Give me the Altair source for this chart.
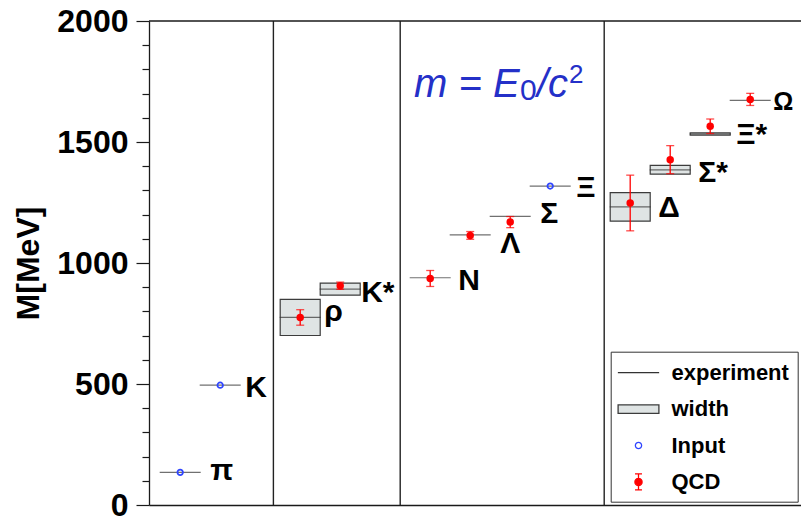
import altair as alt
import pandas as pd

# Hadron spectrum: experimental masses, decay widths and lattice QCD results (MeV)
particles = ["π", "K", "ρ", "K*", "N", "Λ", "Σ", "Ξ", "Δ", "Σ*", "Ξ*", "Ω"]
slots = [0.75, 1.75, 3.75, 4.75, 7, 8, 9, 10, 12, 13, 14, 15]
exp_mass = [135, 495, 775, 892, 939, 1116, 1193, 1318, 1232, 1385, 1533, 1672]
exp_width = [0, 0, 149, 50, 0, 0, 0, 0, 118, 36, 9, 0]
used_as_input = [True, True, False, False, False, False, False, True, False, False, False, False]
qcd_mass = [None, None, 775, 906, 936, 1114, 1169, None, 1248, 1427, 1565, 1676]
qcd_error = [None, None, 32, 15, 33, 16, 23, None, 115, 58, 30, 25]
group_dividers = [3.08, 6.25, 11.35]
y_tick_values = list(range(0, 2001, 100))
legend_entries = ["experiment", "width", "Input", "QCD"]

FONT = "Liberation Sans"
RED = "#ff0000"
BLUE = "#2f45ff"
INK = "#1a1a1a"

# label placement relative to each experimental line (pixels)
label_nudge = {
    "π": (30, 8), "K": (25, 12), "ρ": (24, 4), "K*": (21, 13),
    "N": (28, 12), "Λ": (30, 18), "Σ": (30, 7), "Ξ": (26, 11),
    "Δ": (28, 10), "Σ*": (28, 12), "Ξ*": (26, 10), "Ω": (23, 10),
}
label_size = {"Ω": 25}

df = pd.DataFrame({
    "name": particles,
    "slot": slots,
    "mass": exp_mass,
    "width": exp_width,
    "input": used_as_input,
    "qcd": qcd_mass,
    "err": qcd_error,
})

xscale = alt.Scale(domain=[-0.03, 16.27], nice=False, zero=False)
yscale = alt.Scale(domain=[0, 2000], nice=False, zero=False)
xaxis = alt.Axis(ticks=False, labels=False, grid=False, title="",
                 domainColor=INK, domainWidth=1.3)
major = "datum.value % 500 === 0"
yaxis = alt.Axis(
    values=y_tick_values,
    format="d",
    labelExpr=f"{major} ? datum.label : ''",
    labelOverlap=False,
    tickSize={"condition": {"test": major, "value": 13}, "value": 7},
    tickColor=INK, tickWidth=1.2,
    domainColor=INK, domainWidth=1.3,
    grid=False,
    labelFont=FONT, labelFontSize=32, labelFontWeight="bold", labelColor="black",
    labelPadding=8,
    title="M[MeV]", titleFont=FONT, titleFontSize=32, titleFontWeight="bold",
    titleColor="black", titleX=-121, titleY=242, titleAngle=270,
    titleAlign="center", titleBaseline="middle",
)


def X(field):
    return alt.X(field, type="quantitative", scale=xscale, axis=xaxis)


def Y(field):
    return alt.Y(field, type="quantitative", scale=yscale, axis=yaxis)


base = alt.Chart(df)

# decay-width boxes
boxes = base.transform_filter("datum.width > 0").transform_calculate(
    x0="datum.slot - 0.5", x1="datum.slot + 0.5",
    y0="datum.mass - datum.width / 2", y1="datum.mass + datum.width / 2",
).mark_rect(fill="#dfe4e4", stroke="#3c3c3c", strokeWidth=1.2).encode(
    x=X("x0"), x2="x1", y=Y("y0"), y2="y1"
)

# experimental masses
exp_lines = base.mark_tick(orient="horizontal", size=41, thickness=1.2, color="#333333").encode(
    x=X("slot"), y=Y("mass")
)

qcd = base.transform_filter("datum.qcd != null").transform_calculate(
    lo="datum.qcd - datum.err", hi="datum.qcd + datum.err"
)
err_bars = qcd.mark_rule(color=RED, strokeWidth=1.3).encode(
    x=X("slot"), y=Y("lo"), y2="hi"
)
err_caps = qcd.transform_fold(["lo", "hi"], as_=["end", "cap"]).mark_tick(
    orient="horizontal", size=8, thickness=1.3, color=RED
).encode(x=X("slot"), y=Y("cap"))
qcd_dots = qcd.mark_circle(size=56, color=RED, opacity=1).encode(
    x=X("slot"), y=Y("qcd")
)

inputs = base.transform_filter("datum.input").mark_point(
    shape="circle", size=30, stroke=BLUE, strokeWidth=1.8, filled=False, opacity=1
).encode(x=X("slot"), y=Y("mass"))

dividers = alt.Chart(pd.DataFrame({"slot": group_dividers})).mark_rule(
    color="#222222", strokeWidth=1.4
).encode(x=X("slot"))

top_edge = alt.Chart(pd.DataFrame({"mass": [2000]})).mark_rule(
    color=INK, strokeWidth=1.3
).encode(y=Y("mass"))

labels = []
for name in particles:
    dx, dy = label_nudge[name]
    labels.append(
        base.transform_filter(alt.datum.name == name).mark_text(
            align="left", baseline="alphabetic", dx=dx, dy=dy,
            font=FONT, fontWeight="bold", fontSize=label_size.get(name, 30), color="black",
        ).encode(x=X("slot"), y=Y("mass"), text="name:N")
    )

# m = E0/c^2
formula_parts = [
    ("m = E", 0, 0, 40, "italic"),
    ("0", 106, 3, 30, "normal"),
    ("/c", 123, 0, 40, "italic"),
    ("2", 155, -14, 26, "normal"),
]
formula = []
for txt, dx, dy, fs, style in formula_parts:
    formula.append(
        alt.Chart(pd.DataFrame({"t": [txt]})).mark_text(
            align="left", baseline="alphabetic", dx=dx, dy=dy,
            font=FONT, fontSize=fs, fontStyle=style, color="#2430c8",
        ).encode(x=alt.value(265), y=alt.value(76), text="t:N")
    )

# legend symbols: custom paths on a 24px symbol box
shape_paths = [
    "M-1.72,0H1.72",
    "M-1.7,-0.36H1.7V0.36H-1.7Z",
    "M-0.26,0A0.26,0.26,0,1,1,0.26,0A0.26,0.26,0,1,1,-0.26,0Z",
    "M-0.3,0A0.3,0.3,0,1,1,0.3,0A0.3,0.3,0,1,1,-0.3,0Z"
    "M0,-0.67V0.67M-0.29,-0.67H0.29M-0.29,0.67H0.29",
]
legend = alt.Legend(
    orient="none", legendX=461.7, legendY=330.7, title=None,
    padding=8, symbolOffset=6.8, labelOffset=20, rowPadding=12.4,
    symbolSize=576, symbolStrokeWidth=1.3, symbolOpacity=1,
    labelFont=FONT, labelFontSize=22, labelFontWeight="bold", labelColor="black",
    strokeColor="#333333", fillColor="white",
)
key = alt.Chart(pd.DataFrame({"kind": legend_entries})).mark_point(
    filled=True, size=576, opacity=0
).encode(
    shape=alt.Shape("kind:N", scale=alt.Scale(domain=legend_entries, range=shape_paths), legend=legend),
    fill=alt.Fill("kind:N", scale=alt.Scale(domain=legend_entries,
                                            range=["transparent", "#dfe4e4", "transparent", RED]), legend=legend),
    stroke=alt.Stroke("kind:N", scale=alt.Scale(domain=legend_entries,
                                                range=["#333333", "#3c3c3c", BLUE, RED]), legend=legend),
)

chart = alt.layer(
    boxes, exp_lines, err_bars, err_caps, inputs, qcd_dots, dividers, top_edge,
    *labels, *formula, key,
).properties(
    width=652, height=484,
    padding={"left": 149, "top": 21, "right": 0, "bottom": 15},
    autosize=alt.AutoSizeParams(type="none"),
    background="white",
).configure_view(strokeWidth=0)

chart.save("out.html", embed_options={"renderer": "svg", "actions": False})
